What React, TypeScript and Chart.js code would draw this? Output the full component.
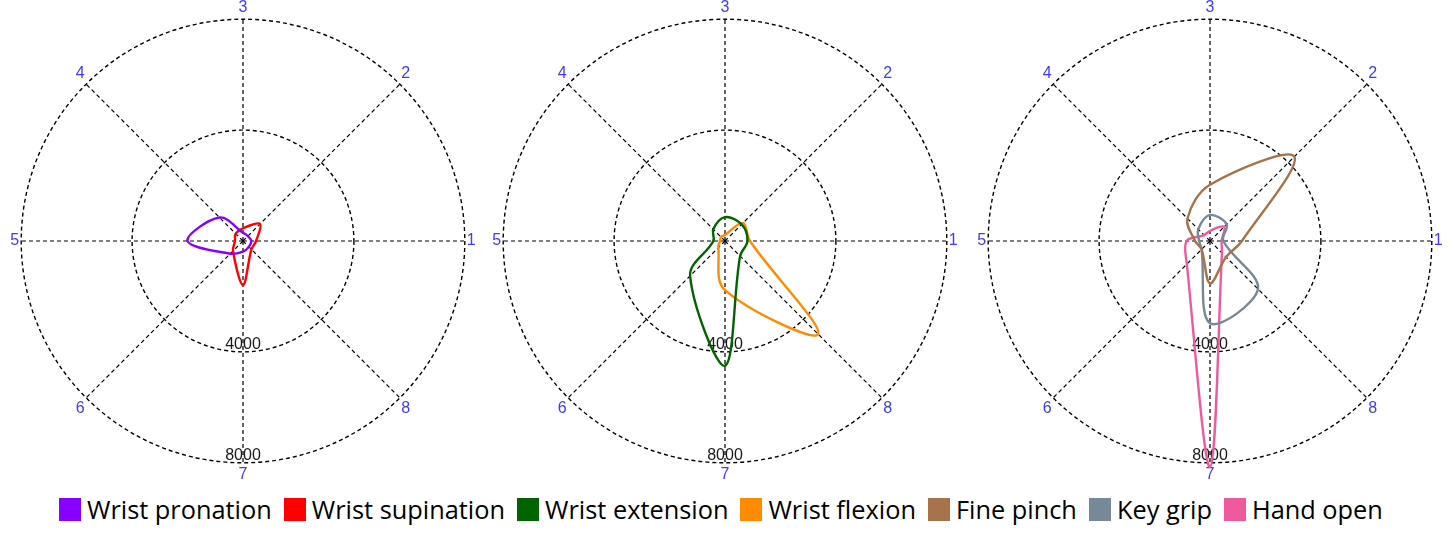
import React, { useEffect, useRef } from 'react';
import { Chart, registerables } from 'chart.js';

Chart.register(...registerables);

// Axis labels, clockwise from the top (Chart.js radar order)
const axisLabels = ['3', '2', '1', '8', '7', '6', '5', '4'];
const tickValues = [4000, 8000];
const scaleMax = 8000;

// Values in the same order as axisLabels
const wristPronation = [300, 250, 300, 300, 380, 650, 2000, 1200];
const wristSupination = [460, 870, 470, 430, 1590, 510, 290, 375];
const wristExtension = [860, 850, 810, 770, 4500, 1780, 420, 600];
const wristFlexion = [220, 920, 900, 4750, 1770, 340, 180, 200];
const finePinch = [2030, 4300, 1150, 820, 1530, 430, 540, 1150];
const keyGrip = [940, 850, 480, 2450, 2970, 430, 390, 600];
const handOpen = [370, 720, 420, 610, 8150, 1180, 845, 300];

const seriesNames = ['Wrist pronation', 'Wrist supination', 'Wrist extension', 'Wrist flexion', 'Fine pinch', 'Key grip', 'Hand open'];
const seriesColors = ['#8800ff', '#ff0000', '#006400', '#ff8c00', '#a6734b', '#778899', '#ef5a9f'];
const seriesValues = [wristPronation, wristSupination, wristExtension, wristFlexion, finePinch, keyGrip, handOpen];
const panelSeries = [[0, 1], [2, 3], [4, 5, 6]];
const panelCenters = [243, 725, 1210];

const CANVAS_W = 484;
const CANVAS_H = 486;

const tickPlugin = {
  id: 'bottomTicks',
  beforeDatasetsDraw(chart: any) {
    const scale = chart.scales.r;
    const ctx = chart.ctx;
    ctx.save();
    ctx.font = '16px "Liberation Sans", Arial, sans-serif';
    ctx.fillStyle = '#1a1a1a';
    ctx.textAlign = 'center';
    ctx.textBaseline = 'alphabetic';
    tickValues.forEach((v) => {
      const d = scale.getDistanceFromCenterForValue(v);
      ctx.fillText(String(v), scale.xCenter, scale.yCenter + d - 3);
    });
    ctx.restore();
  },
};

function RadarPanel({ idx }: { idx: number }) {
  const ref = useRef<HTMLCanvasElement | null>(null);
  useEffect(() => {
    if (!ref.current) return;
    const datasets = panelSeries[idx].map((s) => ({
      label: seriesNames[s],
      data: seriesValues[s],
      borderColor: seriesColors[s],
      backgroundColor: 'transparent',
      fill: false,
      borderWidth: 2.4,
      pointRadius: 0,
      pointHoverRadius: 0,
      tension: 0.35,
    }));
    const chart = new Chart(ref.current, {
      type: 'radar',
      data: { labels: axisLabels, datasets },
      options: {
        animation: false,
        responsive: false,
        maintainAspectRatio: false,
        layout: { padding: 0 },
        plugins: { legend: { display: false }, tooltip: { enabled: false } },
        scales: {
          r: {
            min: 0,
            max: scaleMax,
            startAngle: 0,
            ticks: { display: false, stepSize: 4000 },
            grid: { circular: true, color: '#000', lineWidth: 1.4, borderDash: [4, 3] } as any,
            border: { dash: [4, 3] } as any,
            angleLines: { color: '#000', lineWidth: 1.2, borderDash: [4, 3] },
            pointLabels: {
              color: '#3c3cff',
              font: { family: '"Liberation Sans", Arial, sans-serif', size: 16 },
              padding: 2,
            },
          },
        },
      } as any,
      plugins: [tickPlugin],
    });
    return () => chart.destroy();
  }, [idx]);
  return (
    <div style={{ position: 'absolute', left: panelCenters[idx] - CANVAS_W / 2, top: -2, width: CANVAS_W, height: CANVAS_H }}>
      <canvas ref={ref} width={CANVAS_W} height={CANVAS_H} style={{ width: CANVAS_W, height: CANVAS_H }} />
    </div>
  );
}

export default function App() {
  return (
    <div style={{ position: 'absolute', left: 0, top: 0, width: 1453, height: 544, background: '#fff', overflow: 'hidden' }}>
      {[0, 1, 2].map((i) => (
        <RadarPanel key={i} idx={i} />
      ))}
      <div
        style={{
          position: 'absolute',
          left: 59,
          top: 495,
          display: 'flex',
          alignItems: 'center',
          fontFamily: '"Open Sans", sans-serif',
          fontSize: 25.35,
          color: '#000',
          whiteSpace: 'nowrap',
          lineHeight: '28px',
        }}
      >
        {seriesNames.map((n, i) => (
          <div key={n} style={{ display: 'flex', alignItems: 'center', marginRight: 12 }}>
            <div style={{ width: 22, height: 23, background: seriesColors[i], marginRight: 6 }} />
            <span>{n}</span>
          </div>
        ))}
      </div>
    </div>
  );
}
